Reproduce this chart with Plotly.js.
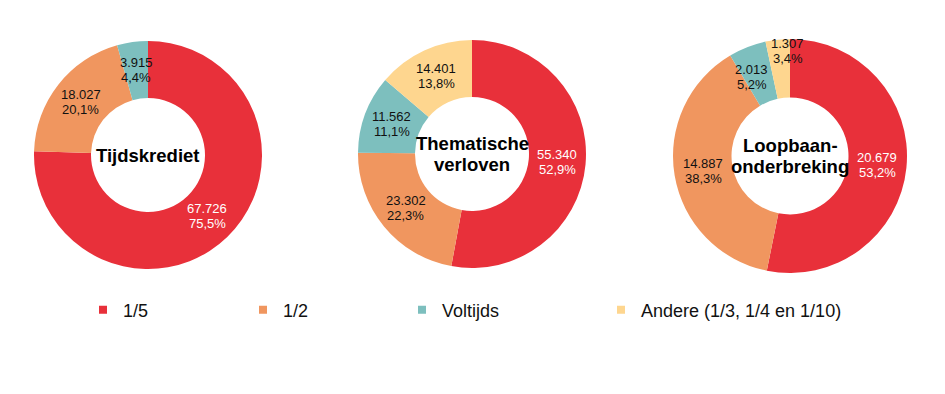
<!DOCTYPE html>
<html>
<head>
<meta charset="utf-8">
<script src="https://cdn.plot.ly/plotly-3.0.1.min.js"></script>
<style>
  html, body { margin: 0; padding: 0; background: #ffffff; }
  #chart { width: 945px; height: 394px; }
</style>
</head>
<body>
<div id="chart"></div>
<script>
// ---- data ----
const categories = ['1/5', '1/2', 'Voltijds', 'Andere (1/3, 1/4 en 1/10)'];
const tijdskredietValues = [67726, 18027, 3915, 0];
const thematischeValues = [55340, 23302, 11562, 14401];
const loopbaanValues = [20679, 14887, 2013, 1307];
const pieTitles = [['Tijdskrediet'], ['Thematische', 'verloven'], ['Loopbaan-', 'onderbreking']];

// ---- styling ----
const colors = ['#E8303A', '#F0965F', '#7DBFBE', '#FED68F'];
const labelColors = ['#ffffff', '#111111', '#111111', '#111111'];
const W = 945, H = 394;
const HOLE = 0.5;
const pieGeom = [
  { cx: 148, cy: 155, r: 114 },
  { cx: 472, cy: 154, r: 114 },
  { cx: 790, cy: 156, r: 117 }
];
// small pixel nudges for crowded labels (pie index - slice index)
const labelNudges = { '2-2': [-6, 3], '2-3': [7, -18] };
// legend entry left edges (px)
const legendX = [83, 243, 402, 601];
const legendY = 310;
const seriesList = [tijdskredietValues, thematischeValues, loopbaanValues];
const FONT = 'Liberation Sans, Arial, sans-serif';

function fmtInt(v) {
  return String(v).replace(/\B(?=(\d{3})+(?!\d))/g, '.');
}
function fmtPct(f) {
  return (f * 100).toFixed(1).replace('.', ',') + '%';
}

const traces = [];
const annotations = [];

seriesList.forEach((vals, p) => {
  const g = pieGeom[p];
  traces.push({
    type: 'pie',
    labels: categories,
    values: vals,
    hole: HOLE,
    sort: false,
    direction: 'clockwise',
    rotation: 0,
    textinfo: 'none',
    hoverinfo: 'label+value+percent',
    marker: { colors: colors, line: { width: 0 } },
    showlegend: false,
    domain: {
      x: [(g.cx - g.r) / W, (g.cx + g.r) / W],
      y: [(H - g.cy - g.r) / H, (H - g.cy + g.r) / H]
    }
  });

  // slice labels at mid-angle, mid-ring
  const total = vals.reduce((a, b) => a + b, 0);
  const rm = g.r * (1 + HOLE) / 2;
  let cum = 0;
  vals.forEach((v, i) => {
    if (v <= 0) return;
    const mid = (cum + v / 2) / total;
    cum += v;
    const th = mid * 2 * Math.PI;
    const nd = labelNudges[p + '-' + i] || [0, 0];
    const px = g.cx + rm * Math.sin(th) + nd[0];
    const py = g.cy - rm * Math.cos(th) + nd[1];
    const lines = [fmtInt(v), fmtPct(v / total)];
    lines.forEach((t, k) => {
      const ly = py + (k - 0.5) * 15;
      annotations.push({
        xref: 'paper', yref: 'paper',
        x: px / W, y: (H - ly) / H,
        xanchor: 'center', yanchor: 'middle',
        showarrow: false,
        text: t,
        font: { family: FONT, size: 13, color: labelColors[i] }
      });
    });
  });

  // centre title lines
  const lines = pieTitles[p];
  const lh = 21;
  lines.forEach((t, k) => {
    const py = g.cy + (k - (lines.length - 1) / 2) * lh;
    annotations.push({
      xref: 'paper', yref: 'paper',
      x: g.cx / W, y: (H - py) / H,
      xanchor: 'center', yanchor: 'middle',
      showarrow: false,
      text: '<b>' + t + '</b>',
      font: { family: FONT, size: 18.5, color: '#000000' }
    });
  });
});

// legend entries (one legend per category so spacing can follow the reference)
const layout = {
  width: W, height: H,
  margin: { l: 0, r: 0, t: 0, b: 0 },
  paper_bgcolor: '#ffffff',
  plot_bgcolor: '#ffffff',
  showlegend: true,
  xaxis: { visible: false, range: [0, 1] },
  yaxis: { visible: false, range: [0, 1] },
  annotations: annotations
};

categories.forEach((c, i) => {
  const lid = i === 0 ? 'legend' : 'legend' + (i + 1);
  traces.push({
    type: 'scatter',
    mode: 'markers',
    x: [null], y: [null],
    name: c,
    legend: lid,
    showlegend: true,
    hoverinfo: 'skip',
    marker: { symbol: 'square', size: 8, color: colors[i] }
  });
  layout[lid] = {
    orientation: 'h',
    x: legendX[i] / W, y: (H - legendY) / H,
    xanchor: 'left', yanchor: 'middle',
    font: { family: FONT, size: 18, color: '#111111' },
    bgcolor: 'rgba(0,0,0,0)'
  };
});

Plotly.newPlot('chart', traces, layout, { displayModeBar: false, staticPlot: true });
</script>
</body>
</html>
